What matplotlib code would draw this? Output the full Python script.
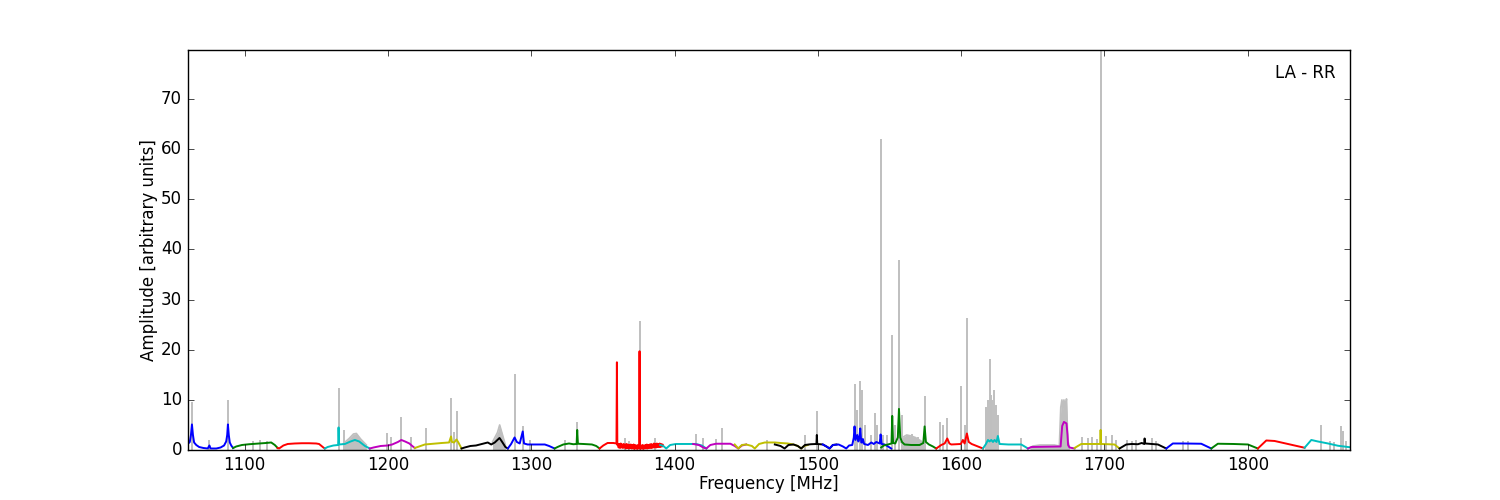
import matplotlib
matplotlib.use("Agg")
import matplotlib.pyplot as plt

plt.style.use('classic')

# colour cycle of the per-band fits (classic matplotlib order)
band_colors = ['b', 'g', 'r', 'c', 'm', 'y', 'k']

# fitted bandpass per sub-band: frequency [MHz] and amplitude
band_freq = [
    [1060.4, 1061.8, 1062.6, 1063.3, 1064.0, 1064.8, 1066.3, 1068.3, 1071.3, 1074.3, 1075.5, 1076.3,
     1080.3, 1083.3, 1085.7, 1087.2, 1087.9, 1088.4, 1089.0, 1089.7, 1090.7, 1092.0],
    [1092.0, 1094.2, 1098.2, 1103.2, 1110.2, 1115.1, 1118.6, 1121.1, 1123.1],
    [1123.1, 1124.1, 1127.1, 1130.1, 1135.0, 1140.0, 1145.0, 1150.0, 1152.0, 1155.0, 1156.0],
    [1156.0, 1158.0, 1162.0, 1165.3, 1165.6, 1166.0, 1170.0, 1174.0, 1177.0, 1180.0, 1184.0, 1187.4],
    [1187.4, 1190.0, 1195.0, 1200.0, 1203.0, 1207.0, 1209.4, 1212.0, 1215.0, 1217.0, 1218.8],
    [1218.8, 1220.8, 1225.8, 1231.8, 1237.7, 1242.7, 1244.1, 1244.7, 1246.2, 1247.9, 1249.2, 1251.4],
    [1251.4, 1253.6, 1257.6, 1261.5, 1265.6, 1269.7, 1272.1, 1274.6, 1277.9, 1280.0, 1282.0, 1283.7],
    [1283.7, 1286.0, 1288.4, 1290.0, 1292.0, 1294.1, 1295.0, 1297.5, 1305.0, 1309.5, 1312.5, 1316.3],
    [1316.3, 1318.4, 1322.4, 1326.4, 1329.4, 1331.7, 1332.1, 1332.6, 1336.4, 1342.4, 1345.4, 1347.7],
    [1347.7, 1350.3, 1353.3, 1357.3, 1359.5, 1359.8, 1360.1,
     1360.5, 1361.0, 1361.5, 1362.0, 1362.5, 1363.0, 1363.5, 1364.0, 1364.5, 1365.0, 1365.5, 1366.0,
     1366.5, 1367.0, 1367.5, 1368.0, 1368.5, 1369.0, 1369.5, 1370.0, 1370.5, 1371.0, 1371.5, 1372.0,
     1372.5, 1373.0, 1373.5, 1374.0, 1374.5, 1375.0, 1375.4, 1375.6, 1375.8, 1376.2, 1376.7, 1377.2,
     1377.7, 1378.2, 1378.7, 1379.2, 1379.7, 1380.2, 1380.7, 1381.2, 1381.7, 1382.2, 1382.7, 1383.2,
     1383.7, 1384.2, 1384.7, 1385.2, 1385.7, 1386.2, 1386.7, 1387.2, 1387.7, 1388.2, 1388.7, 1389.2,
     1389.7, 1390.2, 1390.7, 1391.2, 1391.7, 1392.0],
    [1390.0, 1392.2, 1394.2, 1397.0, 1401.0, 1409.0, 1415.0, 1419.0, 1422.2],
    [1413.0, 1417.0, 1420.0, 1422.2, 1425.0, 1429.0, 1439.0, 1442.0, 1444.5, 1447.0, 1450.0],
    [1442.0, 1444.5, 1447.0, 1450.0, 1454.0, 1456.0, 1459.0, 1463.0, 1470.0, 1474.0, 1479.0, 1483.0,
     1486.0, 1488.4, 1490.5, 1493.0],
    [1470.0, 1474.0, 1476.8, 1479.5, 1483.0, 1486.0, 1488.4, 1491.0, 1495.0, 1499.0, 1499.3, 1499.6,
     1503.5, 1506.0, 1508.2, 1510.5, 1513.0],
    [1503.5, 1506.0, 1508.2, 1510.5, 1514.5, 1517.5, 1519.8, 1521.8, 1524.0, 1525.1, 1525.6, 1526.3,
     1527.5, 1528.3, 1529.0, 1529.6, 1530.3, 1531.0, 1531.4, 1532.3, 1535.0, 1537.3, 1539.0, 1540.8,
     1543.2, 1543.8, 1544.5, 1546.6, 1549.0, 1551.2],
    [1544.2, 1546.0, 1548.9, 1551.4, 1551.9, 1552.5, 1554.0, 1555.8, 1556.6, 1557.5, 1558.7, 1560.5,
     1565.2, 1571.0, 1573.6, 1574.5, 1575.4, 1577.5, 1580.3, 1582.6],
    [1582.6, 1586.1, 1588.5, 1590.3, 1591.8, 1593.1, 1599.8, 1601.2, 1602.4, 1604.0, 1605.3, 1607.3,
     1611.7, 1615.2],
    [1615.2, 1617.3, 1618.7, 1619.8, 1621.0, 1622.2, 1623.3, 1624.7, 1625.6, 1626.8, 1633.0, 1641.9,
     1644.3, 1646.6],
    [1646.6, 1649.0, 1658.0, 1669.4, 1670.0, 1670.5, 1671.7, 1673.5, 1674.2, 1674.6, 1675.6, 1679.1],
    [1679.1, 1683.8, 1690.0, 1697.0, 1697.3, 1697.6, 1703.0, 1707.0, 1710.5],
    [1710.5, 1715.2, 1719.0, 1723.3, 1726.0, 1727.7, 1728.0, 1728.4, 1733.0, 1737.3, 1743.1],
    [1743.1, 1747.7, 1755.0, 1767.5, 1774.5],
    [1774.5, 1779.1, 1790.0, 1800.1, 1807.0],
    [1807.0, 1812.9, 1818.7, 1839.6],
    [1839.6, 1844.3, 1848.9, 1856.0, 1862.9, 1869.8, 1871.3],
]
band_amp = [
    [1.2, 1.6, 3.0, 5.1, 3.0, 1.5, 1.0, 0.6, 0.4, 0.3, 0.9, 0.3,
     0.3, 0.5, 0.9, 1.7, 3.0, 5.1, 3.0, 1.5, 0.9, 0.4],
    [0.4, 0.7, 1.0, 1.15, 1.3, 1.4, 1.5, 1.0, 0.4],
    [0.4, 0.3, 0.9, 1.2, 1.3, 1.35, 1.35, 1.3, 1.2, 0.5, 0.3],
    [0.3, 0.6, 0.9, 1.0, 4.5, 1.1, 1.2, 1.7, 2.0, 1.7, 0.8, 0.3],
    [0.3, 0.5, 0.8, 0.9, 1.1, 1.6, 2.0, 1.7, 1.3, 0.8, 0.4],
    [0.4, 0.6, 1.1, 1.25, 1.4, 1.5, 2.7, 1.6, 1.5, 2.1, 1.5, 0.3],
    [0.3, 0.5, 0.8, 0.9, 1.2, 1.5, 1.1, 1.5, 2.4, 1.5, 0.6, 0.3],
    [0.3, 1.2, 2.5, 1.6, 1.3, 3.7, 1.3, 1.1, 1.1, 1.1, 0.8, 0.3],
    [0.3, 0.6, 1.1, 1.3, 1.15, 1.2, 4.0, 1.25, 1.2, 1.1, 0.8, 0.3],
    [0.3, 0.9, 1.4, 1.4, 1.3, 17.5, 1.0,
     1.2, 0.5, 1.2, 0.4, 1.3, 0.5, 1.1, 0.4, 1.2, 0.5, 1.1, 0.3,
     1.2, 0.4, 1.1, 0.3, 1.0, 0.4, 1.1, 0.3, 1.0, 0.3, 1.1, 0.2,
     1.0, 0.3, 0.9, 0.2, 1.0, 0.3, 1.0, 19.7, 0.9, 0.2, 0.9, 0.3,
     1.0, 0.2, 0.9, 0.3, 1.0, 0.3, 1.1, 0.3, 1.0, 0.4, 1.1, 0.4,
     1.2, 0.4, 1.1, 0.5, 1.3, 0.5, 1.2, 0.5, 1.3, 0.6, 1.2, 0.6,
     1.3, 0.6, 1.2, 0.7, 1.1, 0.8],
    [1.0, 0.8, 0.3, 1.0, 1.2, 1.2, 1.2, 0.9, 0.3],
    [1.2, 1.0, 0.5, 0.3, 1.0, 1.25, 1.25, 0.8, 0.3, 0.9, 1.1],
    [1.1, 0.3, 1.0, 1.1, 0.8, 0.3, 1.2, 1.5, 1.5, 1.4, 1.3, 1.1,
     0.8, 0.3, 0.8, 1.0],
    [1.1, 0.8, 0.3, 1.0, 1.1, 0.8, 0.3, 1.0, 1.15, 1.2, 3.0, 1.2,
     1.1, 0.7, 0.3, 1.0, 1.1],
    [1.1, 0.7, 0.3, 1.0, 1.1, 0.7, 0.3, 0.9, 1.0, 2.5, 4.7, 2.0,
     3.0, 1.7, 2.5, 4.3, 1.5, 1.5, 2.2, 1.2, 1.0, 1.5, 1.2, 1.6,
     1.3, 3.1, 1.2, 1.1, 0.7, 0.3],
    [0.5, 0.9, 1.1, 1.3, 6.8, 1.4, 1.3, 2.5, 8.2, 2.5, 1.6, 1.1,
     1.0, 1.0, 1.4, 4.7, 1.6, 1.1, 0.7, 0.3],
    [0.3, 1.0, 1.3, 2.3, 1.3, 1.1, 1.2, 2.0, 1.3, 3.3, 1.6, 1.2,
     0.7, 0.3],
    [0.3, 1.2, 2.0, 1.7, 2.0, 1.6, 2.0, 1.6, 2.8, 1.2, 1.1, 1.1,
     0.7, 0.3],
    [0.3, 0.6, 0.65, 0.7, 3.0, 4.8, 5.6, 5.3, 3.0, 1.0, 0.5, 0.3],
    [0.4, 1.2, 1.2, 1.2, 4.0, 1.2, 1.15, 1.1, 0.3],
    [0.3, 1.1, 1.2, 1.15, 1.4, 1.2, 2.3, 1.3, 1.2, 1.1, 0.3],
    [0.3, 1.3, 1.3, 1.25, 0.3],
    [0.3, 1.25, 1.2, 1.1, 0.3],
    [0.3, 1.9, 1.8, 0.45],
    [0.45, 2.0, 1.7, 1.3, 0.85, 0.6, 0.55],
]

# raw spectrum: narrow RFI spikes (frequency, peak amplitude)
spike_freq = [1063.0, 1075.5, 1088.4, 1106.0, 1111.0, 1116.0, 1165.6, 1169.3, 1199.5, 1202.5,
              1209.3, 1216.0, 1226.8, 1243.8, 1246.0, 1248.3, 1288.4, 1294.1, 1299.5, 1323.3,
              1332.1, 1365.5, 1368.5, 1375.6, 1386.3, 1415.2, 1419.8, 1429.0, 1433.4, 1464.5,
              1491.2, 1499.3, 1525.6, 1527.5, 1529.6, 1531.0, 1533.0, 1537.3, 1539.8, 1541.5,
              1543.8, 1545.5, 1548.5, 1551.9, 1554.0, 1556.6, 1558.5, 1562.0, 1564.0, 1566.0,
              1568.0, 1570.0, 1574.5, 1585.0, 1587.0, 1590.3, 1599.8, 1602.5, 1603.8, 1617.5,
              1618.7, 1619.8, 1621.0, 1621.8, 1623.0, 1624.2, 1625.4, 1641.9, 1684.5, 1688.5,
              1691.5, 1695.0, 1697.3, 1701.0, 1705.0, 1708.0, 1716.0, 1719.0, 1722.0, 1733.0,
              1736.0, 1755.0, 1758.0, 1851.0, 1857.0, 1860.0, 1865.2, 1866.4, 1868.7]
spike_amp = [9.6, 2.0, 10.0, 1.7, 1.9, 1.8, 12.3, 4.0, 3.3, 2.6,
             6.5, 2.5, 4.3, 10.4, 3.5, 7.8, 15.2, 4.7, 2.0, 2.0,
             5.6, 2.3, 1.8, 25.8, 2.3, 3.1, 2.3, 2.1, 4.3, 2.0,
             3.0, 7.8, 13.2, 8.0, 13.8, 12.0, 5.0, 3.0, 7.3, 5.0,
             62.0, 3.0, 3.0, 23.0, 5.0, 38.0, 7.0, 3.0, 2.6, 3.2,
             2.5, 2.6, 10.7, 5.6, 5.0, 6.3, 12.7, 5.0, 26.3, 8.5,
             10.0, 18.2, 11.0, 10.0, 12.0, 9.0, 7.0, 2.3, 2.5, 2.3,
             2.5, 2.2, 80.0, 2.7, 3.0, 2.0, 2.0, 1.8, 2.0, 2.3,
             1.8, 1.8, 1.7, 5.0, 1.8, 1.5, 4.7, 3.7, 1.7]

# raw spectrum: broader humps that stick out above the fits
hump_freq = [
    [1169.0, 1173.0, 1176.0, 1178.0, 1181.0, 1185.0],
    [1273.0, 1276.5, 1278.0, 1279.5, 1282.0],
    [1558.0, 1559.0, 1562.0, 1565.0, 1568.0, 1572.0, 1574.0],
    [1648.0, 1650.0, 1655.0, 1665.0, 1668.5, 1669.5, 1670.3, 1671.0, 1671.7, 1672.6, 1673.5, 1674.4,
     1675.5],
]
hump_amp = [
    [1.3, 2.3, 3.2, 3.3, 2.2, 1.0],
    [1.6, 3.5, 5.0, 3.5, 1.0],
    [1.5, 2.5, 3.0, 2.8, 2.5, 1.8, 1.2],
    [0.4, 0.8, 1.0, 1.0, 0.8, 8.5, 10.0, 8.0, 10.0, 8.5, 10.2, 2.0, 0.6],
]

fig = plt.figure(figsize=(15, 5), dpi=100, facecolor='white')
ax = fig.add_subplot(111)
fig.subplots_adjust(left=0.125, right=0.9, bottom=0.1, top=0.9)

gray = '0.75'
for hf, ha in zip(hump_freq, hump_amp):
    ax.fill_between(hf, 0, ha, color=gray, lw=0)
    ax.plot(hf, ha, color=gray, lw=1.2)
ax.vlines(spike_freq, 0, spike_amp, color=gray, lw=1.4)

for i, (bf, ba) in enumerate(zip(band_freq, band_amp)):
    ax.plot(bf, ba, color=band_colors[i % len(band_colors)], lw=1.4)

ax.set_xlim(1060.2, 1871.3)
ax.set_ylim(0, 79.8)
ax.set_xticks([1100, 1200, 1300, 1400, 1500, 1600, 1700, 1800])
ax.set_yticks([0, 10, 20, 30, 40, 50, 60, 70])
ax.set_xlabel('Frequency [MHz]', labelpad=1)
ax.set_ylabel('Amplitude [arbitrary units]', labelpad=2)
ax.text(0.988, 0.965, 'LA - RR', transform=ax.transAxes, ha='right', va='top', fontsize=12)

fig.savefig('out.png', dpi=100, facecolor='white')
